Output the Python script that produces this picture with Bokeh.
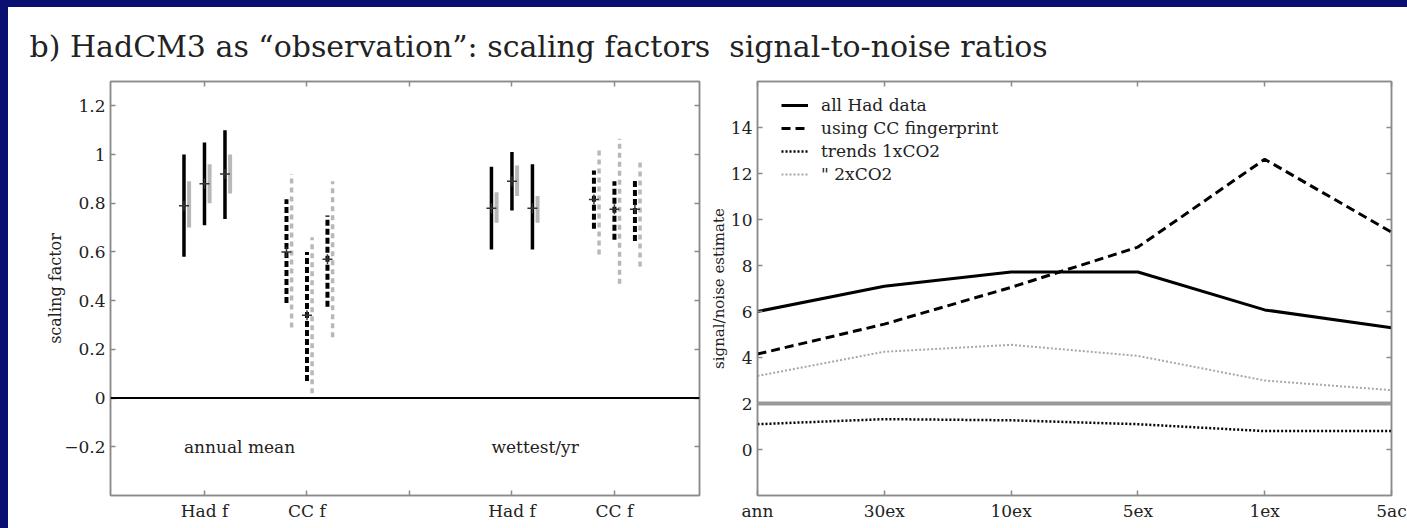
from bokeh.plotting import figure
from bokeh.layouts import column, row
from bokeh.models import (Range1d, FixedTicker, LinearAxis, ColumnDataSource, Span,
                          Legend, LegendItem, CustomJSTickFormatter)
from bokeh.embed import file_html
from bokeh.resources import INLINE
from bokeh.core.properties import value

# ---------------- data ----------------
TITLE = "b) HadCM3 as \u201cobservation\u201d: scaling factors\u00a0\u00a0signal-to-noise ratios"

# left panel: categories on the x axis
cat_ticks = [1, 2, 3, 4, 5]
cat_labels = ["Had f", "CC f", "", "Had f", "CC f"]
region_names = ["annual mean", "wettest/yr"]
region_first_cat = [1, 4]

# each estimate: category index, member (0,1,2) within category, fingerprint type
est_cat = [1, 1, 1, 2, 2, 2, 4, 4, 4, 5, 5, 5]
est_member = [0, 1, 2, 0, 1, 2, 0, 1, 2, 0, 1, 2]
est_fp = ["Had", "Had", "Had", "CC", "CC", "CC", "Had", "Had", "Had", "CC", "CC", "CC"]
best = [0.79, 0.88, 0.92, 0.60, 0.34, 0.57, 0.78, 0.89, 0.78, 0.815, 0.775, 0.775]
black_lo = [0.58, 0.71, 0.735, 0.39, 0.07, 0.375, 0.61, 0.77, 0.61, 0.695, 0.65, 0.645]
black_hi = [1.00, 1.05, 1.10, 0.816, 0.60, 0.75, 0.95, 1.01, 0.96, 0.935, 0.89, 0.90]
gray_lo = [0.70, 0.80, 0.84, 0.29, 0.02, 0.25, 0.72, 0.83, 0.72, 0.59, 0.47, 0.54]
gray_hi = [0.89, 0.96, 1.00, 0.92, 0.66, 0.89, 0.845, 0.955, 0.83, 1.03, 1.065, 0.97]
zero_level = 0.0

# right panel
snr_labels = ["ann", "30ex", "10ex", "5ex", "1ex", "5ac"]
all_had = [6.0, 7.1, 7.72, 7.72, 6.07, 5.29]
cc_fp = [4.15, 5.45, 7.05, 8.8, 12.62, 9.45]
trend_1x = [1.1, 1.32, 1.27, 1.1, 0.8, 0.8]
trend_2x = [3.2, 4.25, 4.55, 4.07, 3.0, 2.58]
snr_threshold = 2.0
legend_labels = ["all Had data", "using CC fingerprint", "trends 1xCO2", "\" 2xCO2"]

# ---------------- style ----------------
FONT = "DejaVu Serif"
TXT = "#222222"
FRAME = "#8a8a8a"
NAVY = "#0a0f72"
LGRAY = "#b8b8b8"

empty_fmt = CustomJSTickFormatter(code="return ''")


def style_axis(ax, ticks, labels=None, show=True):
    ax.ticker = FixedTicker(ticks=ticks)
    ax.axis_line_color = FRAME
    ax.axis_line_width = 1.5
    ax.major_tick_in = 5
    ax.major_tick_out = 0
    ax.major_tick_line_color = FRAME
    ax.major_tick_line_width = 1.5
    ax.minor_tick_line_color = None
    ax.major_label_text_font = FONT
    ax.major_label_text_font_size = "17px"
    ax.major_label_text_color = TXT
    ax.major_label_standoff = 5
    if not show:
        ax.formatter = empty_fmt
        ax.major_label_standoff = 0
    elif labels is not None:
        ax.major_label_overrides = {t: l for t, l in zip(ticks, labels)}


# ---------------- title strip ----------------
pt = figure(width=1399, height=63, output_backend="svg", toolbar_location=None,
            x_range=Range1d(0, 1), y_range=Range1d(0, 1), min_border=0, min_border_top=56)
pt.axis.visible = False
pt.grid.visible = False
pt.outline_line_color = None
pt.border_fill_color = "white"
pt.background_fill_color = "white"
pt.title.text = TITLE
pt.title.text_font = FONT
pt.title.text_font_size = "30px"
pt.title.text_font_style = "normal"
pt.title.text_color = TXT
pt.title.align = "left"
pt.title.offset = 21
pt.title.standoff = 0

# ---------------- left panel ----------------
p1 = figure(width=698, height=458, output_backend="svg", toolbar_location=None,
            x_range=Range1d(0.083, 5.83), y_range=Range1d(-0.4, 1.3),
            min_border_left=102, min_border_right=7, min_border_top=11, min_border_bottom=33)
p1.grid.visible = False
p1.outline_line_color = FRAME
p1.outline_line_width = 1.5
style_axis(p1.xaxis[0], cat_ticks, cat_labels)
style_axis(p1.yaxis[0], [-0.2, 0, 0.2, 0.4, 0.6, 0.8, 1, 1.2],
           ["\u22120.2", "0", "0.2", "0.4", "0.6", "0.8", "1", "1.2"])
p1.yaxis[0].axis_label = "scaling factor"
p1.yaxis[0].axis_label_text_font = FONT
p1.yaxis[0].axis_label_text_font_size = "16px"
p1.yaxis[0].axis_label_text_font_style = "normal"
p1.yaxis[0].axis_label_text_color = TXT
p1.yaxis[0].axis_label_standoff = -4
ax_r = LinearAxis()
style_axis(ax_r, [-0.2, 0, 0.2, 0.4, 0.6, 0.8, 1, 1.2], show=False)
p1.add_layout(ax_r, "right")
ax_t = LinearAxis()
style_axis(ax_t, cat_ticks, show=False)
p1.add_layout(ax_t, "above")

OFF = 0.2
GOFF = 0.05
xs = [c + (m - 1) * OFF for c, m in zip(est_cat, est_member)]


def subset(fp):
    idx = [i for i, f in enumerate(est_fp) if f == fp]
    return ColumnDataSource(dict(
        x=[xs[i] for i in idx],
        xg=[xs[i] + GOFF for i in idx],
        best=[best[i] for i in idx],
        blo=[black_lo[i] for i in idx], bhi=[black_hi[i] for i in idx],
        glo=[gray_lo[i] for i in idx], ghi=[gray_hi[i] for i in idx]))


src_had = subset("Had")
src_cc = subset("CC")

p1.segment(x0="xg", y0="glo", x1="xg", y1="ghi", source=src_had, line_color=LGRAY, line_width=4)
p1.segment(x0="x", y0="blo", x1="x", y1="bhi", source=src_had, line_color="black", line_width=3.5)
p1.segment(x0="xg", y0="glo", x1="xg", y1="ghi", source=src_cc, line_color=LGRAY, line_width=3.5,
           line_dash="5 4")
p1.segment(x0="x", y0="blo", x1="x", y1="bhi", source=src_cc, line_color="black", line_width=4,
           line_dash="6 3")
p1.scatter(x="x", y="best", source=src_had, marker="cross", size=10, line_color="#333333", line_width=1.5)
p1.scatter(x="x", y="best", source=src_cc, marker="cross", size=10, line_color="#333333", line_width=1.5)

p1.add_layout(Span(location=zero_level, dimension="width", line_color="black", line_width=2))

reg_src = ColumnDataSource(dict(x=[c - OFF for c in region_first_cat],
                                y=[-0.2] * len(region_names), t=region_names))
p1.text(x="x", y="y", text="t", source=reg_src, text_font=value(FONT), text_font_size="17px",
        text_color=TXT, text_align="left", text_baseline="middle")

# ---------------- right panel ----------------
p2 = figure(width=701, height=458, output_backend="svg", toolbar_location=None,
            x_range=Range1d(1, 6), y_range=Range1d(-2, 16),
            min_border_left=48, min_border_right=16, min_border_top=11, min_border_bottom=33)
p2.grid.visible = False
p2.outline_line_color = FRAME
p2.outline_line_width = 1.5
xt = list(range(1, len(snr_labels) + 1))
style_axis(p2.xaxis[0], xt, snr_labels)
yt = [0, 2, 4, 6, 8, 10, 12, 14]
style_axis(p2.yaxis[0], yt, [str(v) for v in yt])
p2.yaxis[0].axis_label = "signal/noise estimate"
p2.yaxis[0].axis_label_text_font = FONT
p2.yaxis[0].axis_label_text_font_size = "15px"
p2.yaxis[0].axis_label_text_font_style = "normal"
p2.yaxis[0].axis_label_text_color = TXT
p2.yaxis[0].axis_label_standoff = 0
ax_r2 = LinearAxis()
style_axis(ax_r2, yt, show=False)
p2.add_layout(ax_r2, "right")
ax_t2 = LinearAxis()
style_axis(ax_t2, xt, show=False)
p2.add_layout(ax_t2, "above")

p2.add_layout(Span(location=snr_threshold, dimension="width", line_color="#9a9a9a", line_width=4))

src2 = ColumnDataSource(dict(x=xt, a=all_had, c=cc_fp, t1=trend_1x, t2=trend_2x))
r_a = p2.line("x", "a", source=src2, line_color="black", line_width=3)
r_c = p2.line("x", "c", source=src2, line_color="black", line_width=3, line_dash="9 5")
r_t1 = p2.line("x", "t1", source=src2, line_color="black", line_width=2.5, line_dash="2 2")
r_t2 = p2.line("x", "t2", source=src2, line_color="#a8a8a8", line_width=2, line_dash="2 2")

legend = Legend(items=[LegendItem(label=l, renderers=[r]) for l, r in
                       zip(legend_labels, [r_a, r_c, r_t1, r_t2])],
                location=(24, 311), padding=0, margin=0, spacing=3,
                glyph_width=27, glyph_height=20, label_height=20, label_standoff=13,
                background_fill_alpha=0, border_line_color=None,
                label_text_font=FONT, label_text_font_size="17px", label_text_color=TXT)
p2.add_layout(legend)

layout = column(pt, row(p1, p2),
                styles={"background-color": "#ffffff",
                        "border-left": "8px solid " + NAVY,
                        "border-top": "7px solid " + NAVY,
                        "border-right": "0px none",
                        "border-bottom": "0px none"})

open("out.html", "w").write(file_html(layout, INLINE))
